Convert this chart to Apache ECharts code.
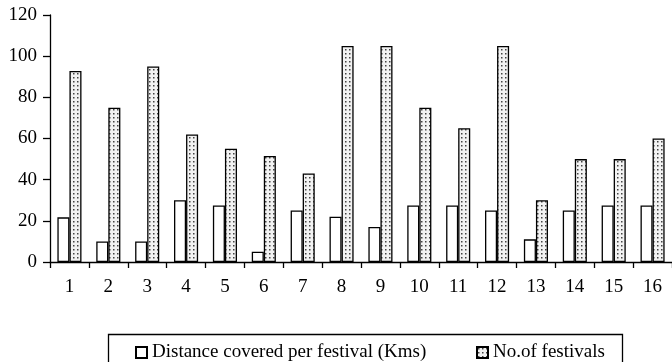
<!DOCTYPE html>
<html>
<head>
<meta charset="utf-8">
<script src="https://cdn.jsdelivr.net/npm/echarts@6/dist/echarts.min.js"></script>
<style>
  html, body { margin: 0; padding: 0; background: #ffffff; }
  #chart { width: 672px; height: 362px; }
</style>
</head>
<body>
<div id="chart"></div>
<script>
var categories = ["1", "2", "3", "4", "5", "6", "7", "8", "9", "10", "11", "12", "13", "14", "15", "16"];
var distanceValues = [21.7, 10, 10, 30, 27.5, 5, 25, 22, 17, 27.5, 27.5, 25, 11, 25, 27.5, 27.5];
var festivalValues = [92.8, 75, 95, 62, 55, 51.5, 43, 105, 105, 75, 65, 105, 30, 50, 50, 60];
var yTicks = [0, 20, 40, 60, 80, 100, 120];

var distanceName = "Distance covered per festival (Kms)";
var festivalName = "No.of festivals";
var fontFamily = "Liberation Serif";

// small dotted tile for the festival bars
function makeDots() {
  var c = document.createElement("canvas");
  c.width = 4;
  c.height = 4;
  var ctx = c.getContext("2d");
  ctx.fillStyle = "#f2f2f2";
  ctx.fillRect(0, 0, 4, 4);
  ctx.fillStyle = "#444444";
  ctx.fillRect(1, 1, 1.5, 1.5);
  return c;
}
var dotFill = { image: makeDots(), repeat: "repeat" };

var chart = echarts.init(document.getElementById("chart"), null, { renderer: "canvas" });

var legendText = { fontFamily: fontFamily, fontSize: 19, color: "#000" };

chart.setOption({
  animation: false,
  backgroundColor: "#ffffff",
  grid: { left: 50, right: 0, top: 15, bottom: 100, containLabel: false },
  xAxis: {
    type: "category",
    data: categories,
    axisLine: { lineStyle: { color: "#000", width: 1.3 } },
    axisTick: { show: true, interval: 0, length: 6, lineStyle: { color: "#000", width: 1.3 } },
    axisLabel: { interval: 0, margin: 16, fontFamily: fontFamily, fontSize: 19, color: "#000" }
  },
  yAxis: {
    type: "value",
    min: yTicks[0],
    max: yTicks[yTicks.length - 1],
    interval: 20,
    axisLine: { show: true, lineStyle: { color: "#000", width: 1.3 } },
    axisTick: { show: true, length: 7, lineStyle: { color: "#000", width: 1.3 } },
    splitLine: { show: false },
    axisLabel: { margin: 13, fontFamily: fontFamily, fontSize: 19, color: "#000" }
  },
  legend: [
    {
      data: [distanceName],
      left: 130, top: 338,
      icon: "rect", itemWidth: 11, itemHeight: 11, itemGap: 0,
      textStyle: legendText
    },
    {
      data: [festivalName],
      left: 471, top: 338,
      icon: "rect", itemWidth: 11, itemHeight: 11,
      textStyle: legendText
    }
  ],
  graphic: [
    {
      type: "rect",
      shape: { x: 108.5, y: 334.5, width: 514, height: 40 },
      style: { fill: "none", stroke: "#000", lineWidth: 1.3 },
      silent: true
    }
  ],
  series: [
    {
      name: distanceName,
      type: "bar",
      data: distanceValues,
      barGap: "0%",
      barCategoryGap: "38%",
      itemStyle: { color: "#ffffff", borderColor: "#000", borderWidth: 1.3 }
    },
    {
      name: festivalName,
      type: "bar",
      data: festivalValues,
      barGap: "0%",
      barCategoryGap: "38%",
      itemStyle: { color: dotFill, borderColor: "#000", borderWidth: 1.3 }
    }
  ]
});
</script>
</body>
</html>
